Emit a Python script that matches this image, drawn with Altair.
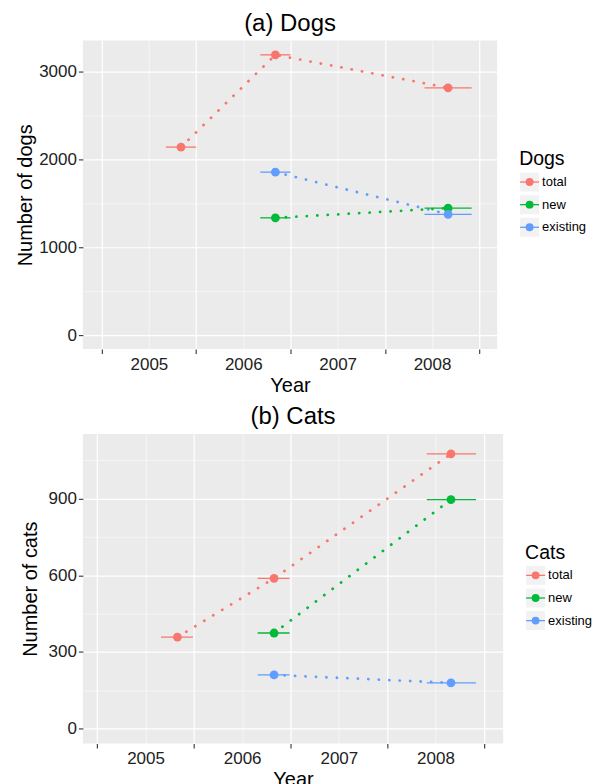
import altair as alt
import pandas as pd

SERIES = ["total", "new", "existing"]
COLORS = ["#F8766D", "#00BA38", "#619CFF"]

# (a) Dogs
dog_series = ["total", "total", "total", "new", "new", "existing", "existing"]
dog_year = [2005.34, 2006.34, 2008.17, 2006.34, 2008.17, 2006.34, 2008.17]
dog_start = [2005.18, 2006.18, 2007.92, 2006.18, 2007.92, 2006.18, 2007.92]
dog_end = [2005.50, 2006.50, 2008.42, 2006.50, 2008.42, 2006.50, 2008.42]
dog_count = [2140, 3190, 2815, 1335, 1445, 1855, 1375]

# (b) Cats
cat_series = ["total", "total", "total", "new", "new", "existing", "existing"]
cat_year = [2005.33, 2006.33, 2008.16, 2006.33, 2008.16, 2006.33, 2008.16]
cat_start = [2005.16, 2006.16, 2007.91, 2006.16, 2007.91, 2006.16, 2007.91]
cat_end = [2005.49, 2006.49, 2008.42, 2006.49, 2008.42, 2006.49, 2008.42]
cat_count = [358, 588, 1075, 374, 896, 210, 179]

x_values = [2004.5, 2005, 2005.5, 2006, 2006.5, 2007, 2007.5, 2008, 2008.5]
dog_y_values = [0, 500, 1000, 1500, 2000, 2500, 3000]
cat_y_values = [0, 150, 300, 450, 600, 750, 900, 1050]

FONT = "Liberation Sans"


def panel(series, year, start, end, count, title, ylab, legend_title,
          width, height, xdom, ydom, yvalues, ymajor, ytitle_pad):
    df = pd.DataFrame(dict(series=series, year=year, start=start, end=end, count=count))
    color = alt.Color("series:N", scale=alt.Scale(domain=SERIES, range=COLORS), legend=None)
    xmajor = "datum.value % 1 != 0"
    xaxis = alt.Axis(
        values=x_values, title="Year",
        labelExpr="datum.value % 1 == 0 ? format(datum.value, 'd') : ''",
        labelFontSize=17, labelPadding=3,
        tickOpacity={"condition": {"test": xmajor, "value": 1}, "value": 0},
        gridWidth={"condition": {"test": xmajor, "value": 1.2}, "value": 0.55},
    )
    ytest = f"datum.value % {ymajor} == 0"
    yaxis = alt.Axis(
        values=yvalues, title=ylab,
        labelExpr=f"{ytest} ? format(datum.value, 'd') : ''",
        labelFontSize=17, labelPadding=2, titlePadding=ytitle_pad,
        tickOpacity={"condition": {"test": ytest, "value": 1}, "value": 0},
        gridWidth={"condition": {"test": ytest, "value": 1.2}, "value": 0.55},
    )
    x = alt.X("year:Q", scale=alt.Scale(domain=xdom, nice=False, zero=False), axis=xaxis)
    y = alt.Y("count:Q", scale=alt.Scale(domain=ydom, nice=False, zero=False), axis=yaxis)
    base = alt.Chart(df)
    lines = base.mark_line(strokeDash=[0.1, 10.4], strokeCap="round", strokeWidth=2.8).encode(
        x=x, y=y, color=color, detail="series:N", order="year:Q")
    bars = base.mark_rule(strokeWidth=1.3).encode(
        x="start:Q", x2="end:Q", y="count:Q", color=color)
    pts = base.mark_circle(size=78, opacity=1).encode(
        x="year:Q", y="count:Q", color=color)
    plot = alt.layer(lines, bars, pts)

    keys = [legend_title] + SERIES
    ldf = pd.DataFrame(dict(key=keys, series=[""] + SERIES, kind=["title"] + ["item"] * 3))
    ly = alt.Y("key:N", scale=alt.Scale(type="point", domain=keys, range=[119, 187], padding=0),
               axis=None)
    lbase = alt.Chart(ldf)
    items = lbase.transform_filter("datum.kind == 'item'")
    kx = width + 23 + 9.5
    ltitle = lbase.transform_filter("datum.kind == 'title'").mark_text(
        align="left", baseline="middle", fontSize=19.5, font=FONT, color="black").encode(
        x=alt.value(width + 22), y=ly, text="key:N")
    lsq = items.mark_square(size=361, color="#F2F2F2", opacity=1).encode(x=alt.value(kx), y=ly)
    lline = items.mark_point(shape="stroke", size=361, strokeWidth=1.3, filled=False, opacity=1).encode(
        x=alt.value(kx), y=ly, color=color)
    ldot = items.mark_circle(size=62, opacity=1).encode(x=alt.value(kx), y=ly, color=color)
    ltext = items.mark_text(align="left", baseline="middle", fontSize=13, font=FONT, color="black").encode(
        x=alt.value(width + 45), y=ly, text="key:N")
    legend = alt.layer(ltitle, lsq, lline, ldot, ltext)

    return alt.layer(plot, legend).resolve_scale(y="independent").properties(
        width=width, height=height,
        title=alt.TitleParams(text=title, fontSize=24, font=FONT, fontWeight="normal",
                              color="black", frame="group", anchor="middle", offset=5),
    )


p1 = panel(dog_series, dog_year, dog_start, dog_end, dog_count, "(a) Dogs", "Number of dogs", "Dogs",
           415, 309, [2004.3, 2008.69], [-159, 3352], dog_y_values, 1000, 3)
p2 = panel(cat_series, cat_year, cat_start, cat_end, cat_count, "(b) Cats", "Number of cats", "Cats",
           421, 310, [2004.352, 2008.70], [-58, 1153], cat_y_values, 300, 8)

chart = alt.vconcat(p1, p2, spacing=9).properties(
    padding={"left": 7, "top": 3, "right": 0, "bottom": 0}
).configure_view(fill="#EBEBEB", stroke=None).configure_axis(
    domain=False, gridColor="white", tickColor="#333333", tickSize=4.5, tickWidth=1.1,
    labelFont=FONT, labelFontSize=17, labelColor="#222222",
    titleFont=FONT, titleFontSize=20, titleFontWeight="normal", titleColor="black", titlePadding=3,
)

chart.save("out.html", embed_options={"renderer": "svg", "actions": False})
